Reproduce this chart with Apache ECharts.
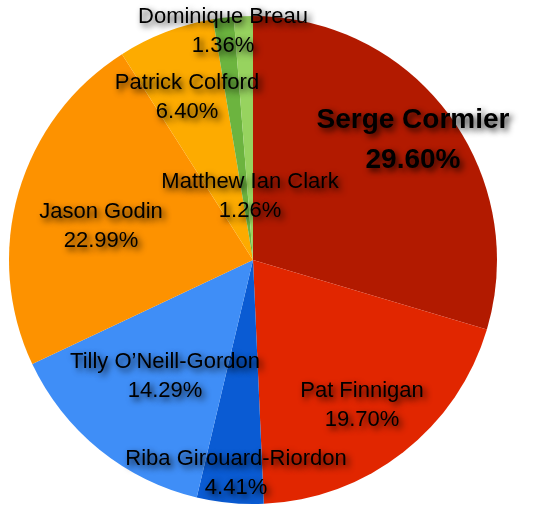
<!DOCTYPE html>
<html>
<head>
<meta charset="utf-8">
<script src="https://cdn.jsdelivr.net/npm/echarts@6/dist/echarts.min.js"></script>
<style>
html,body{margin:0;padding:0;background:#fff;}
#main{width:533px;height:510px;}
</style>
</head>
<body>
<div id="main"></div>
<script>
// candidates, clockwise from 12 o'clock
var names = ['Serge Cormier', 'Pat Finnigan', 'Riba Girouard-Riordon', 'Tilly O\u2019Neill-Gordon',
             'Jason Godin', 'Patrick Colford', 'Dominique Breau', 'Matthew Ian Clark'];
var shares = [29.60, 19.70, 4.41, 14.29, 22.99, 6.40, 1.36, 1.26];
var colors = ['#b21a00', '#e12600', '#0a5bd3', '#3f8ef7', '#fd9200', '#fdab00', '#6cb43f', '#97d35f'];

// where each label sits (style only)
var labelPos = [[413, 140], [362, 405], [236, 473], [165, 376], [101, 226], [187, 97], [223, 31], [250, 196]];

var myChart = echarts.init(document.getElementById('main'));

var dataList = [];
names.forEach(function(n, i){
    var item = {
        name: n,
        value: shares[i],
        itemStyle: {color: colors[i]}
    };
    if(i == 0){
        item.label = {fontSize: 28, fontWeight: 'bold', lineHeight: 40};
    }
    dataList.push(item);
});

var option = {
    animation: false,
    series: [{
        type: 'pie',
        center: [253, 260],
        radius: 244,
        startAngle: 90,
        clockwise: true,
        avoidLabelOverlap: false,
        itemStyle: {borderWidth: 0},
        label: {
            show: true,
            position: 'inside',
            formatter: function(p){
                return p.name + '\n' + p.value.toFixed(2) + '%';
            },
            color: '#000',
            fontFamily: '"Liberation Sans", Arial, sans-serif',
            fontSize: 22,
            lineHeight: 29,
            align: 'center',
            verticalAlign: 'middle',
            textShadowColor: 'rgba(0,0,0,0.85)',
            textShadowBlur: 6,
            textShadowOffsetX: 3,
            textShadowOffsetY: 3
        },
        labelLine: {show: false},
        labelLayout: function(p){
            return {x: labelPos[p.dataIndex][0], y: labelPos[p.dataIndex][1]};
        },
        emphasis: {disabled: true},
        data: dataList
    }]
};

myChart.setOption(option);
</script>
</body>
</html>
